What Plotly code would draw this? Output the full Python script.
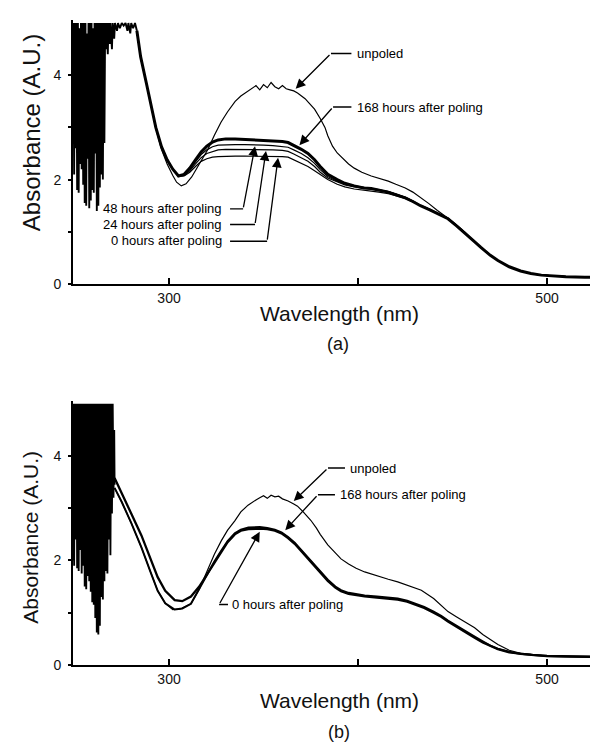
import plotly.graph_objects as go

# ---------------- DATA ----------------
# Panel (a): saturated / noisy region below ~283 nm
A_NOISE_WL = [249.4, 249.8, 250.2, 250.6, 251.0, 251.4, 251.8, 252.2, 252.6, 253.0, 253.4, 253.8,
              254.2, 254.6, 255.0, 255.4, 255.8, 256.2, 256.6, 257.0, 257.4, 257.8, 258.2, 258.6,
              259.0, 259.4, 259.8, 260.2, 260.6, 261.0, 261.4, 261.8, 262.2, 262.6, 263.0, 263.4,
              263.8, 264.2, 264.6, 265.0, 265.4, 265.8, 266.2, 266.6, 267.0, 267.6, 268.0, 268.6,
              269.0, 269.8, 270.2, 271.0, 271.4, 272.5, 273.0, 274.0, 275.0, 276.0, 277.0, 278.0,
              278.5, 279.5, 280.0, 281.0, 282.0, 283.0]
A_NOISE_ABS = [5.0, 2.1, 5.0, 2.6, 5.0, 1.8, 5.0, 1.75, 4.9, 2.3, 5.0, 2.2,
               5.0, 1.9, 5.0, 1.55, 5.0, 1.5, 4.8, 2.4, 5.0, 1.45, 5.0, 1.6,
               5.0, 1.8, 4.9, 1.75, 5.0, 2.5, 5.0, 1.4, 5.0, 1.5, 5.0, 1.85,
               5.0, 2.1, 5.0, 2.0, 5.0, 2.7, 5.0, 4.5, 5.0, 4.4, 5.0, 4.6,
               5.0, 4.5, 5.0, 4.7, 5.0, 4.85, 5.0, 4.9, 5.0, 4.95, 5.0, 4.85,
               5.0, 4.8, 5.0, 4.9, 5.0, 4.85]

A_UNPOLED_WL = [283, 285, 288, 290.5, 293, 296, 299, 302, 304, 306.5, 309, 312, 315, 318, 320.6,
                324, 327.5, 331, 335, 338, 342, 344, 346, 348, 350, 352, 354, 356, 358, 360, 362,
                364, 366, 368, 370, 372, 374, 377, 380, 382.5, 384, 386.5, 389, 392, 395, 398,
                402, 407, 412, 416, 420, 425, 429, 433, 437.5, 442, 447.6, 452, 456.6, 461, 465,
                470, 474, 480, 486, 491.5, 497, 503, 510, 520, 531]
A_UNPOLED_ABS = [4.85, 4.35, 3.85, 3.4, 2.98, 2.58, 2.3, 2.08, 1.95, 1.88, 1.92, 2.05, 2.24, 2.42, 2.58,
                 2.85, 3.1, 3.3, 3.5, 3.6, 3.7, 3.74, 3.8, 3.72, 3.82, 3.76, 3.86, 3.78, 3.74, 3.8, 3.74,
                 3.72, 3.7, 3.66, 3.6, 3.55, 3.47, 3.35, 3.17, 3.0, 2.84, 2.64, 2.51, 2.4, 2.3, 2.22,
                 2.14, 2.07, 2.02, 1.97, 1.91, 1.84, 1.76, 1.66, 1.54, 1.41, 1.26, 1.12, 0.98, 0.83, 0.7,
                 0.55, 0.45, 0.33, 0.25, 0.2, 0.17, 0.15, 0.14, 0.13, 0.13]

A_POLED_WL = [283, 285, 288, 290.5, 293, 296, 299, 302, 305, 308, 311, 314, 317, 320, 323, 326, 330,
              335, 340, 345, 350, 355, 360, 363, 366, 370, 373.5, 377, 380, 384, 389, 393, 398, 403,
              407, 411, 416, 420, 425, 429, 433, 438, 442, 447.6, 452, 456.6, 461, 465, 470, 474,
              480, 486, 491.5, 497, 503, 510, 520, 531]
A_168H = [4.85, 4.35, 3.85, 3.4, 3.0, 2.63, 2.38, 2.2, 2.07, 2.1, 2.22, 2.38, 2.53, 2.64, 2.72, 2.76, 2.78,
          2.78, 2.77, 2.77, 2.76, 2.75, 2.73, 2.71, 2.66, 2.58, 2.5, 2.38, 2.25, 2.1, 2.0, 1.93, 1.88, 1.84,
          1.83, 1.8, 1.76, 1.71, 1.65, 1.58, 1.5, 1.42, 1.35, 1.25, 1.12, 0.98, 0.83, 0.7, 0.55, 0.45,
          0.33, 0.25, 0.2, 0.17, 0.15, 0.14, 0.13, 0.13]
A_48H = [4.85, 4.35, 3.85, 3.4, 3.0, 2.63, 2.38, 2.2, 2.07, 2.09, 2.2, 2.34, 2.48, 2.57, 2.63, 2.66, 2.67,
         2.67, 2.67, 2.67, 2.66, 2.65, 2.64, 2.62, 2.57, 2.5, 2.42, 2.31, 2.19, 2.06, 1.97, 1.92, 1.88, 1.85,
         1.84, 1.81, 1.77, 1.72, 1.66, 1.59, 1.51, 1.43, 1.36, 1.26, 1.13, 0.99, 0.83, 0.7, 0.55, 0.45,
         0.33, 0.25, 0.2, 0.17, 0.15, 0.14, 0.13, 0.13]
A_24H = [4.85, 4.35, 3.85, 3.4, 3.0, 2.63, 2.38, 2.2, 2.07, 2.08, 2.17, 2.3, 2.42, 2.5, 2.54, 2.57, 2.58,
         2.58, 2.58, 2.58, 2.58, 2.57, 2.56, 2.54, 2.49, 2.42, 2.35, 2.25, 2.14, 2.03, 1.95, 1.9, 1.86, 1.84,
         1.83, 1.8, 1.77, 1.72, 1.66, 1.59, 1.51, 1.43, 1.36, 1.26, 1.13, 0.99, 0.83, 0.7, 0.55, 0.45,
         0.33, 0.25, 0.2, 0.17, 0.15, 0.14, 0.13, 0.13]
A_0H = [4.85, 4.35, 3.85, 3.4, 3.0, 2.63, 2.38, 2.2, 2.06, 2.07, 2.14, 2.25, 2.35, 2.4, 2.43, 2.44, 2.45,
        2.45, 2.45, 2.45, 2.45, 2.44, 2.44, 2.43, 2.38, 2.32, 2.25, 2.17, 2.1, 2.0, 1.91, 1.86, 1.82, 1.79,
        1.78, 1.76, 1.73, 1.69, 1.64, 1.57, 1.5, 1.42, 1.35, 1.25, 1.12, 0.98, 0.83, 0.7, 0.55, 0.45,
        0.33, 0.25, 0.2, 0.17, 0.15, 0.14, 0.13, 0.13]

# Panel (b): saturated / noisy region below ~271 nm
B_NOISE_WL = [248.6, 249.0, 249.4, 249.8, 250.2, 250.6, 251.0, 251.4, 251.8, 252.2, 252.6, 253.0,
              253.4, 253.8, 254.2, 254.6, 255.0, 255.4, 255.8, 256.2, 256.6, 257.0, 257.4, 257.8,
              258.2, 258.6, 259.0, 259.4, 259.8, 260.2, 260.6, 261.0, 261.4, 261.8, 262.2, 262.6,
              263.0, 263.4, 263.8, 264.2, 264.6, 265.0, 265.4, 265.8, 266.2, 266.6, 267.0, 267.4,
              267.8, 268.2, 268.6, 269.0, 269.4, 269.8, 270.2, 270.6, 271.0, 271.2]
B_NOISE_ABS = [5.0, 2.0, 5.0, 1.9, 5.0, 2.4, 5.0, 1.85, 5.0, 1.8, 5.0, 2.2,
               5.0, 1.75, 5.0, 1.9, 5.0, 1.5, 5.0, 1.45, 5.0, 1.7, 5.0, 1.6,
               5.0, 1.4, 5.0, 1.2, 5.0, 1.15, 5.0, 0.9, 5.0, 0.62, 5.0, 0.58,
               5.0, 0.75, 5.0, 1.3, 5.0, 1.25, 5.0, 1.6, 5.0, 1.8, 5.0, 1.75,
               5.0, 2.4, 5.0, 2.1, 5.0, 2.9, 5.0, 3.2, 4.5, 3.45]

B_UNPOLED_WL = [271.2, 275, 280, 285.4, 290, 294, 298, 302, 306, 311.6, 316, 320.6, 324, 327.7, 331,
                334.8, 338, 341.8, 344, 346, 348, 350, 352, 354, 356, 358, 360, 363, 366, 368, 371,
                375, 378, 380, 384, 388, 391, 395, 399, 403.5, 410, 416, 421, 427, 433.5, 440, 444,
                447.6, 452, 457, 461.7, 466, 470, 474, 480, 486, 491.7, 500, 510, 531]
B_UNPOLED_ABS = [3.39, 3.12, 2.72, 2.25, 1.8, 1.42, 1.18, 1.06, 1.07, 1.17, 1.45, 1.84, 2.12, 2.38, 2.58,
                 2.76, 2.93, 3.06, 3.12, 3.16, 3.2, 3.24, 3.19, 3.25, 3.22, 3.23, 3.18, 3.14, 3.08, 3.04, 2.93,
                 2.77, 2.62, 2.5, 2.3, 2.14, 2.03, 1.93, 1.85, 1.78, 1.7, 1.64, 1.59, 1.52, 1.43, 1.27, 1.14,
                 1.02, 0.92, 0.81, 0.71, 0.58, 0.48, 0.39, 0.28, 0.22, 0.2, 0.17, 0.16, 0.15]

B_POLED_WL = [271.2, 275, 280, 285.4, 290, 294, 298, 303, 307, 311.6, 316, 320.6, 324, 327.7, 331, 334.8,
              338, 342, 345, 348, 352, 356, 359.5, 363, 366.5, 370, 373.5, 377, 380.4, 384, 388, 391, 395,
              399, 403.5, 410, 416, 421, 426, 430, 435, 440, 444, 447.6, 452, 457, 461.7, 466, 470, 474,
              480, 486, 491.7, 500, 510, 531]
B_0H = [3.58, 3.3, 2.9, 2.48, 2.04, 1.68, 1.42, 1.24, 1.22, 1.31, 1.5, 1.76, 1.96, 2.17, 2.35, 2.5,
        2.57, 2.6, 2.61, 2.61, 2.6, 2.57, 2.52, 2.43, 2.32, 2.18, 2.03, 1.9, 1.76, 1.61, 1.48, 1.41, 1.36,
        1.33, 1.31, 1.29, 1.27, 1.25, 1.21, 1.16, 1.09, 1.0, 0.92, 0.83, 0.73, 0.62, 0.52, 0.43, 0.36, 0.3,
        0.24, 0.21, 0.19, 0.17, 0.16, 0.15]
B_168H = [3.39, 3.12, 2.72, 2.25, 1.8, 1.42, 1.18, 1.06, 1.08, 1.17, 1.46, 1.77, 1.98, 2.19, 2.37, 2.52,
          2.59, 2.63, 2.64, 2.64, 2.62, 2.59, 2.54, 2.45, 2.34, 2.2, 2.05, 1.92, 1.78, 1.63, 1.5, 1.43, 1.38,
          1.35, 1.33, 1.31, 1.29, 1.27, 1.23, 1.18, 1.11, 1.02, 0.94, 0.85, 0.75, 0.64, 0.54, 0.45, 0.37, 0.31,
          0.25, 0.21, 0.19, 0.17, 0.16, 0.15]

X_TICKS = [300, 400, 500]
X_TICK_TEXT = ["300", "", "500"]
Y_TICKS = [0, 1, 2, 3, 4]
Y_TICK_TEXT = ["0", "", "2", "", "4"]

# ---------------- FIGURE ----------------
FONT = "Liberation Sans, Arial, Helvetica, sans-serif"
W, H = 598, 744

fig = go.Figure()


def line(x, y, xa, ya, width):
    fig.add_trace(go.Scatter(x=x, y=y, mode="lines", xaxis=xa, yaxis=ya,
                             line=dict(color="black", width=width), showlegend=False,
                             hoverinfo="skip"))


# panel (a)
line(A_NOISE_WL, A_NOISE_ABS, "x", "y", 1.9)
line(A_UNPOLED_WL, A_UNPOLED_ABS, "x", "y", 1.2)
line(A_POLED_WL, A_0H, "x", "y", 1.2)
line(A_POLED_WL, A_24H, "x", "y", 1.2)
line(A_POLED_WL, A_48H, "x", "y", 1.2)
line(A_POLED_WL, A_168H, "x", "y", 3.0)
# panel (b)
line(B_NOISE_WL, B_NOISE_ABS, "x2", "y2", 1.9)
line(B_UNPOLED_WL, B_UNPOLED_ABS, "x2", "y2", 1.2)
line(B_POLED_WL, B_0H, "x2", "y2", 2.3)
line(B_POLED_WL, B_168H, "x2", "y2", 2.0)

XR = [249.2, 531.2]
YR = [0, 5.06]
xdom = [65 / W, 1.0]
top_dom = [1 - 279 / H, 1 - 12 / H]
bot_dom = [1 - 664 / H, 1 - 397 / H]

xcommon = dict(range=XR, domain=xdom, showgrid=False, zeroline=False, showline=True,
               linecolor="black", linewidth=2, ticks="inside", ticklen=6, tickwidth=1.5,
               tickcolor="black", tickvals=X_TICKS, ticktext=X_TICK_TEXT,
               tickfont=dict(family=FONT, size=14, color="#111"))
ycommon = dict(range=YR, showgrid=False, zeroline=False, showline=True,
               linecolor="black", linewidth=2, ticks="outside", ticklen=3, tickwidth=1.5,
               tickcolor="black", tickvals=Y_TICKS, ticktext=Y_TICK_TEXT,
               tickfont=dict(family=FONT, size=14, color="#111"), ticklabelstandoff=4)

fig.update_layout(
    width=W, height=H, margin=dict(l=0, r=0, t=0, b=0),
    paper_bgcolor="white", plot_bgcolor="white",
    xaxis=dict(**xcommon, anchor="y"),
    yaxis=dict(**ycommon, domain=top_dom, anchor="x"),
    xaxis2=dict(**xcommon, anchor="y2"),
    yaxis2=dict(**ycommon, domain=bot_dom, anchor="x2"),
)

ann = []
shapes = []
TF = dict(family=FONT, size=13, color="black")


def label(text, x, y, xa, ya, anchor):
    ann.append(dict(text=text, x=x, y=y, xref=xa, yref=ya, xanchor=anchor, yanchor="middle",
                    showarrow=False, font=TF))


def leader(x0, x1, y, xa, ya):
    shapes.append(dict(type="line", x0=x0, x1=x1, y0=y, y1=y, xref=xa, yref=ya,
                       line=dict(color="black", width=1.4)))


def arrow(tx, ty, hx, hy, xa, ya):
    ann.append(dict(text="", x=hx, y=hy, ax=tx, ay=ty, xref=xa, yref=ya, axref=xa, ayref=ya,
                    showarrow=True, arrowhead=2, arrowsize=1.5, arrowwidth=1.3,
                    arrowcolor="black", standoff=0))


# panel (a) callouts
label("unpoled", 398.4, 4.415, "x", "y", "left")
leader(385.7, 396.5, 4.415, "x", "y")
arrow(385.7, 4.415, 367.0, 3.74, "x", "y")

label("168 hours after poling", 398.4, 3.39, "x", "y", "left")
leader(386.8, 396.5, 3.39, "x", "y")
arrow(386.8, 3.39, 369.0, 2.66, "x", "y")

label("48 hours after poling", 329.0, 1.44, "x", "y", "right")
leader(332.3, 339.2, 1.44, "x", "y")
arrow(339.2, 1.44, 345.5, 2.64, "x", "y")

label("24 hours after poling", 329.0, 1.14, "x", "y", "right")
leader(332.3, 345.5, 1.14, "x", "y")
arrow(345.5, 1.14, 351.3, 2.55, "x", "y")

label("0 hours after poling", 329.0, 0.83, "x", "y", "right")
leader(332.3, 351.9, 0.82, "x", "y")
arrow(351.9, 0.82, 357.7, 2.42, "x", "y")

# panel (b) callouts
label("unpoled", 394.7, 3.77, "x2", "y2", "left")
leader(384.1, 393.1, 3.77, "x2", "y2")
arrow(384.1, 3.77, 366.0, 3.14, "x2", "y2")

label("168 hours after poling", 389.4, 3.26, "x2", "y2", "left")
leader(378.8, 387.8, 3.26, "x2", "y2")
arrow(378.8, 3.26, 361.5, 2.58, "x2", "y2")

label("0 hours after poling", 332.3, 1.156, "x2", "y2", "left")
leader(326.5, 331.2, 1.156, "x2", "y2")
arrow(326.5, 1.156, 348.0, 2.55, "x2", "y2")


# axis titles and panel labels
def ptext(text, px, py, size, angle=0):
    ann.append(dict(text=text, x=px / W, y=1 - py / H, xref="paper", yref="paper",
                    xanchor="center", yanchor="middle", showarrow=False, textangle=angle,
                    font=dict(family=FONT, size=size, color="#111")))


ptext("Absorbance (A.U.)", 23, 126.5, 24, -90)
ptext("Absorbance (A.U.)", 23, 535.5, 21, -90)
ptext("Wavelength (nm)", 331, 309, 21)
ptext("Wavelength (nm)", 331, 700, 21)
ptext("(a)", 330, 340, 18)
ptext("(b)", 331, 732, 18)

fig.update_layout(annotations=ann, shapes=shapes)
fig.write_html("out.html")
